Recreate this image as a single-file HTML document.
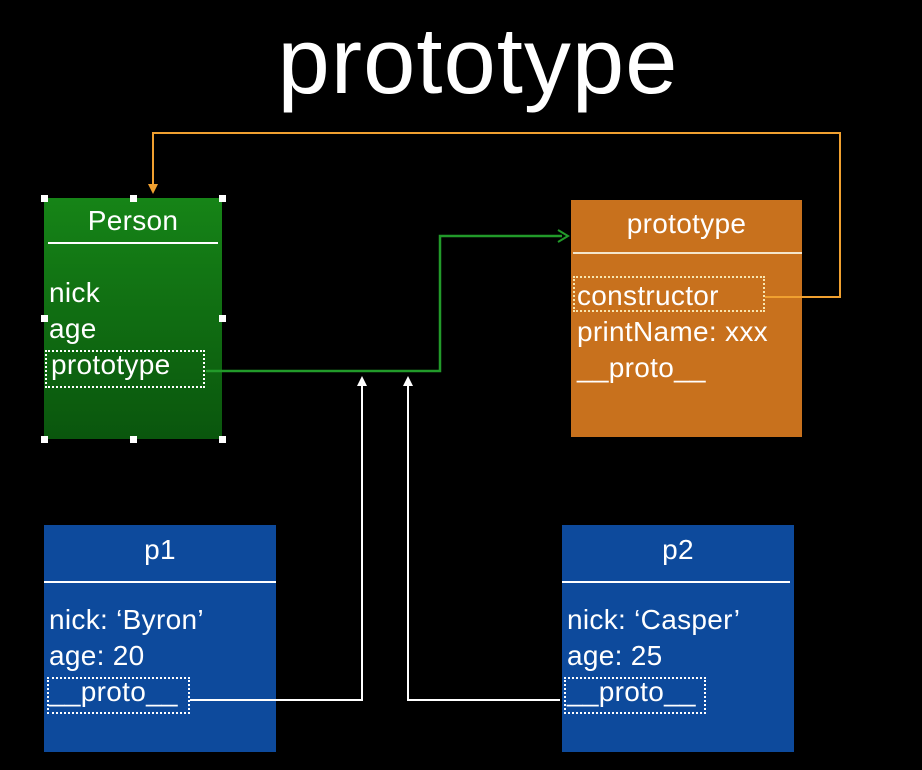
<!DOCTYPE html>
<html><head><style>
body{margin:0;width:922px;height:770px;background:#000;position:relative;overflow:hidden;font-family:"Liberation Sans",sans-serif;color:#fff}
.a{position:absolute}
.t{position:absolute;font-size:28px;line-height:30px;white-space:nowrap;letter-spacing:0.3px}
.dot{position:absolute;border:2px dotted #fff;box-sizing:border-box}
.h{position:absolute;width:7px;height:7px;background:#fff}
</style></head><body>
<div class="t" style="left:0;width:956px;text-align:center;top:8px;font-size:94px;line-height:106px;color:#fff;letter-spacing:1px">prototype</div>

<div class="a" style="left:44px;top:198px;width:178px;height:241px;background:linear-gradient(#168417,#0a560d)"></div>
<div class="t" style="left:44px;width:178px;text-align:center;top:206px">Person</div>
<div class="a" style="left:48px;top:242px;width:170px;height:2px;background:#fff"></div>
<div class="t" style="left:49px;top:278px">nick</div>
<div class="t" style="left:49px;top:314px">age</div>
<div class="t" style="left:51px;top:350px">prototype</div>
<div class="dot" style="left:45px;top:350px;width:160px;height:38px"></div>
<div class="h" style="left:41px;top:195px"></div><div class="h" style="left:130px;top:195px"></div><div class="h" style="left:219px;top:195px"></div>
<div class="h" style="left:41px;top:315px"></div><div class="h" style="left:219px;top:315px"></div>
<div class="h" style="left:41px;top:436px"></div><div class="h" style="left:130px;top:436px"></div><div class="h" style="left:219px;top:436px"></div>

<div class="a" style="left:571px;top:200px;width:231px;height:237px;background:#c8711d"></div>
<div class="t" style="left:571px;width:231px;text-align:center;top:209px">prototype</div>
<div class="a" style="left:573px;top:252px;width:229px;height:2px;background:#f4e6cc"></div>
<div class="t" style="left:577px;top:281px">constructor</div>
<div class="dot" style="left:573px;top:276px;width:192px;height:36px;border-color:#f8e6b0"></div>
<div class="t" style="left:577px;top:317px">printName: xxx</div>
<div class="t" style="left:577px;top:353px">__proto__</div>

<div class="a" style="left:44px;top:525px;width:232px;height:227px;background:#0d4a9c"></div>
<div class="t" style="left:44px;width:232px;text-align:center;top:535px">p1</div>
<div class="a" style="left:44px;top:581px;width:232px;height:2px;background:#fff"></div>
<div class="t" style="left:49px;top:605px">nick: ‘Byron’</div>
<div class="t" style="left:49px;top:641px">age: 20</div>
<div class="t" style="left:49px;top:677px">__proto__</div>
<div class="dot" style="left:47px;top:677px;width:143px;height:37px"></div>

<div class="a" style="left:562px;top:525px;width:232px;height:227px;background:#0d4a9c"></div>
<div class="t" style="left:562px;width:232px;text-align:center;top:535px">p2</div>
<div class="a" style="left:562px;top:581px;width:228px;height:2px;background:#fff"></div>
<div class="t" style="left:567px;top:605px">nick: ‘Casper’</div>
<div class="t" style="left:567px;top:641px">age: 25</div>
<div class="t" style="left:567px;top:677px">__proto__</div>
<div class="dot" style="left:564px;top:677px;width:142px;height:37px"></div>

<svg class="a" style="left:0;top:0" width="922" height="770">
<polyline points="765,297 840,297 840,133 153,133 153,186" fill="none" stroke="#f0a030" stroke-width="2"/>
<polygon points="148,184 158,184 153,194" fill="#f0a030"/>
<polyline points="206,371 440,371 440,236 562,236" fill="none" stroke="#229a2a" stroke-width="2.5"/>
<polyline points="558,230 568,236 558,242" fill="none" stroke="#229a2a" stroke-width="2"/>
<polyline points="190,700 362,700 362,384" fill="none" stroke="#fff" stroke-width="2"/>
<polygon points="357,386 367,386 362,376" fill="#fff"/>
<polyline points="560,700 408,700 408,384" fill="none" stroke="#fff" stroke-width="2"/>
<polygon points="403,386 413,386 408,376" fill="#fff"/>
</svg>
</body></html>
